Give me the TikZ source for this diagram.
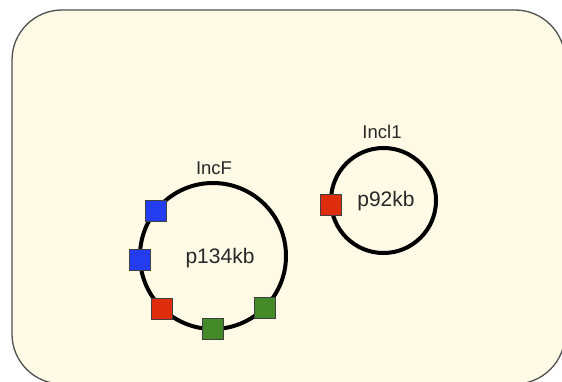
\documentclass[tikz,border=0pt]{standalone}
\usepackage{fontspec}
\setmainfont{Liberation Sans}
\definecolor{cellfill}{RGB}{254,250,230}
\definecolor{cellline}{RGB}{80,80,80}
\definecolor{genblue}{RGB}{35,60,240}
\definecolor{genred}{RGB}{222,45,12}
\definecolor{gengreen}{RGB}{68,138,40}
\definecolor{labelgrey}{RGB}{40,40,40}
\begin{document}
\begin{tikzpicture}[x=1pt,y=-1pt,
  plasmid/.style={circle,draw=black,line width=4pt,inner sep=0pt,outer sep=0pt},
  gene/.style={rectangle,draw=black!75,line width=0.7pt,minimum size=21pt,inner sep=0pt},
  namelabel/.style={text=labelgrey,font=\fontsize{18.5}{22}\selectfont,inner sep=0pt},
  sizelabel/.style={text=labelgrey,font=\fontsize{21}{25}\selectfont,inner sep=0pt}]
  % page frame
  \useasboundingbox (0,0) rectangle (562,382);
  \clip (0,0) rectangle (562,382);
  \fill[white] (0,0) rectangle (562,382);
  % bacterial cell
  \draw[fill=cellfill,draw=cellline,line width=1.3pt,rounded corners=50pt]
    (12,10) rectangle (565,384);

  % plasmids
  \node[plasmid,minimum size=146pt] (big) at (213,256) {};
  \node[plasmid,minimum size=105pt] (small) at (383.5,200.5) {};

  % names and sizes
  \node[namelabel] (incf) at (214,168) {IncF};
  \node[namelabel] (incl) at (382,132) {Incl1};
  \node[sizelabel] (bigsize) at (220,258) {p134kb};
  \node[sizelabel] (smallsize) at (386,201) {p92kb};

  % resistance genes on the large plasmid
  \node[gene,fill=genblue] (b1) at (big.142) {};
  \node[gene,fill=genblue] (b2) at (big.183) {};
  \node[gene,fill=genred] (r1) at (big.226) {};
  \node[gene,fill=gengreen] (g1) at (big.270) {};
  \node[gene,fill=gengreen] (g2) at (big.315) {};

  % resistance gene on the small plasmid
  \node[gene,fill=genred] (r2) at (small.185) {};
\end{tikzpicture}
\end{document}
